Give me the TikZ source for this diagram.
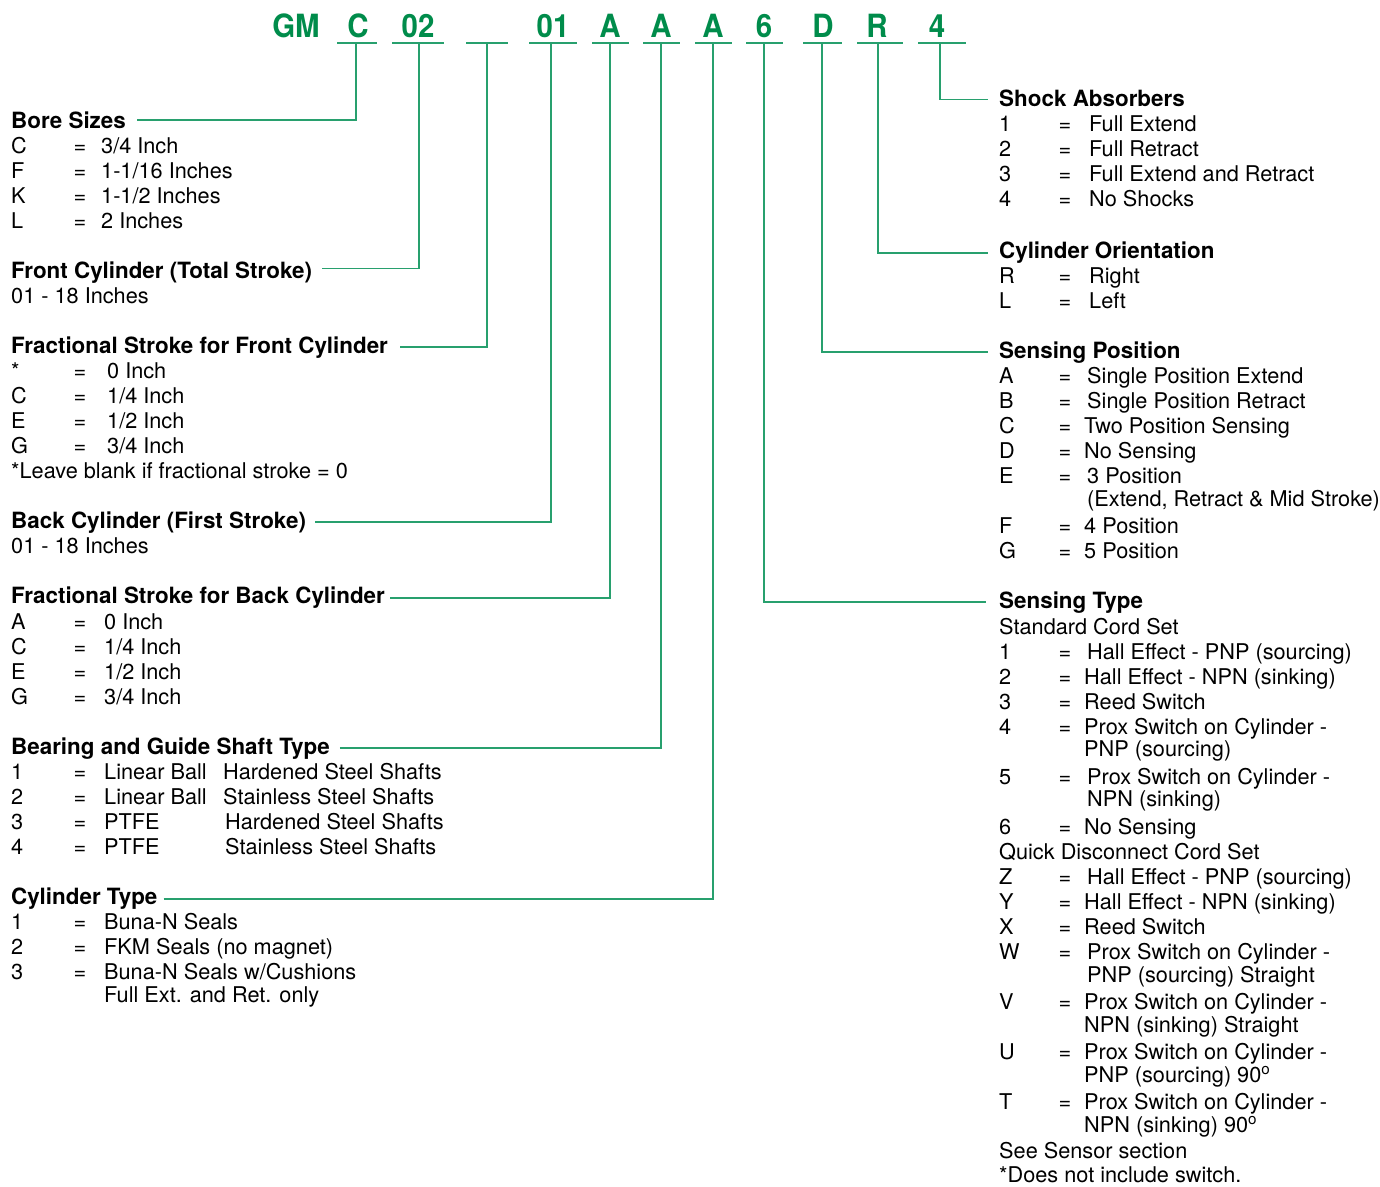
\documentclass[tikz,border=0pt]{standalone}
\usepackage{fontspec}
\setmainfont{TeX Gyre Heros}
\usetikzlibrary{calc}
\definecolor{codegreen}{RGB}{0,140,75}
\definecolor{linegreen}{RGB}{40,160,110}
\tikzset{
 txt/.style={anchor=base west, inner sep=0pt, font=\fontsize{21.7}{26}\selectfont},
 eqs/.style={anchor=base, inner sep=0pt, font=\fontsize{21.7}{26}\selectfont},
 head/.style={anchor=base west, inner sep=0pt, font=\fontsize{22.4}{27}\selectfont\bfseries},
 code/.style={anchor=base, inner sep=0pt, text=codegreen, font=\fontsize{32}{36}\selectfont\bfseries},
 conn/.style={draw=linegreen, line width=1.4pt},
}
\newcommand\Lrow[5]{\node[txt] (#1k) at (11,#2) {#3}; \node[eqs] (#1e) at (80,#2) {=}; \node[txt] (#1v) at (#4,#2) {#5};}
\newcommand\Rrow[5]{\node[txt] (#1k) at (999,#2) {#3}; \node[eqs] (#1e) at (1065,#2) {=}; \node[txt] (#1v) at (#4,#2) {#5};}
\newcommand\cw[1]{\scalebox{0.92}[1]{#1}}
\begin{document}
\begin{tikzpicture}[x=1pt,y=-1pt]
\fill[white] (0,0) rectangle (1380,1186);
\useasboundingbox (0,0) rectangle (1380,1186);
% code letters
\node[code] (cGM) at (296,37) {\cw{GM}};
\node[code] (cC) at (358,37) {\cw{C}};
\node[code] (c02) at (418,37) {\cw{02}};
\node[code] (c01) at (553,37) {\cw{01}};
\node[code] (cA1) at (610,37) {\cw{A}};
\node[code] (cA2) at (661,37) {\cw{A}};
\node[code] (cA3) at (713,37) {\cw{A}};
\node[code] (c6) at (764,37) {\cw{6}};
\node[code] (cD) at (823,37) {\cw{D}};
\node[code] (cR) at (877,37) {\cw{R}};
\node[code] (c4) at (937,37) {\cw{4}};
% underline anchor points
\coordinate (uC) at (356,43);
\coordinate (u02) at (419,43);
\coordinate (ubl) at (487,43);
\coordinate (u01) at (551,43);
\coordinate (uA1) at (610,43);
\coordinate (uA2) at (661,43);
\coordinate (uA3) at (713,43);
\coordinate (u6) at (764,43);
\coordinate (uD) at (822,43);
\coordinate (uR) at (878,43);
\coordinate (u4) at (940,43);
\draw[conn] ($(uC)+(-19,0)$) -- ($(uC)+(21,0)$);
\draw[conn] ($(u02)+(-27,0)$) -- ($(u02)+(25,0)$);
\draw[conn] ($(ubl)+(-21,0)$) -- ($(ubl)+(21,0)$);
\draw[conn] ($(u01)+(-22,0)$) -- ($(u01)+(26,0)$);
\draw[conn] ($(uA1)+(-18,0)$) -- ($(uA1)+(19,0)$);
\draw[conn] ($(uA2)+(-18,0)$) -- ($(uA2)+(19,0)$);
\draw[conn] ($(uA3)+(-18,0)$) -- ($(uA3)+(19,0)$);
\draw[conn] ($(u6)+(-18,0)$) -- ($(u6)+(19,0)$);
\draw[conn] ($(uD)+(-19,0)$) -- ($(uD)+(20,0)$);
\draw[conn] ($(uR)+(-21,0)$) -- ($(uR)+(25,0)$);
\draw[conn] ($(u4)+(-22,0)$) -- ($(u4)+(26,0)$);
% ---------- left column ----------
\node[head] (bore) at (11,128) {Bore Sizes};
\Lrow{bs1}{153}{C}{101}{3/4 Inch}
\Lrow{bs2}{178}{F}{101}{1-1/16 Inches}
\Lrow{bs3}{203}{K}{101}{1-1/2 Inches}
\Lrow{bs4}{228}{L}{101}{2 Inches}
\node[head] (front) at (11,278) {Front Cylinder (Total Stroke)};
\node[txt] (front1) at (11,303) {01 - 18 Inches};
\node[head] (fracf) at (11,353) {Fractional Stroke for Front Cylinder};
\Lrow{ff1}{378}{*}{107}{0 Inch}
\Lrow{ff2}{403}{C}{107}{1/4 Inch}
\Lrow{ff3}{428}{E}{107}{1/2 Inch}
\Lrow{ff4}{453}{G}{107}{3/4 Inch}
\node[txt] (ffnote) at (11,478) {*Leave blank if fractional stroke = 0};
\node[head] (back) at (11,528) {Back Cylinder (First Stroke)};
\node[txt] (back1) at (11,553) {01 - 18 Inches};
\node[head] (fracb) at (11,603) {Fractional Stroke for Back Cylinder};
\Lrow{fb1}{629}{A}{104}{0 Inch}
\Lrow{fb2}{654}{C}{104}{1/4 Inch}
\Lrow{fb3}{679}{E}{104}{1/2 Inch}
\Lrow{fb4}{704}{G}{104}{3/4 Inch}
\node[head] (bear) at (11,754) {Bearing and Guide Shaft Type};
\Lrow{br1}{779}{1}{104}{Linear Ball}
\Lrow{br2}{804}{2}{104}{Linear Ball}
\Lrow{br3}{829}{3}{104}{PTFE}
\Lrow{br4}{854}{4}{104}{PTFE}
\node[txt] (br1s) at (223,779) {Hardened Steel Shafts};
\node[txt] (br2s) at (223,804) {Stainless Steel Shafts};
\node[txt] (br3s) at (225,829) {Hardened Steel Shafts};
\node[txt] (br4s) at (225,854) {Stainless Steel Shafts};
\node[head] (cyl) at (11,904) {Cylinder Type};
\Lrow{ct1}{929}{1}{104}{Buna-N Seals}
\Lrow{ct2}{954}{2}{104}{FKM Seals (no magnet)}
\Lrow{ct3}{979}{3}{104}{Buna-N Seals w/Cushions}
\node[txt] (ct3b) at (104,1002) {Full Ext. and Ret. only};
% ---------- right column ----------
\node[head] (shock) at (999,106) {Shock Absorbers};
\Rrow{sa1}{131}{1}{1089}{Full Extend}
\Rrow{sa2}{156}{2}{1089}{Full Retract}
\Rrow{sa3}{181}{3}{1089}{Full Extend and Retract}
\Rrow{sa4}{206}{4}{1089}{No Shocks}
\node[head] (orient) at (999,258) {Cylinder Orientation};
\Rrow{or1}{283}{R}{1089}{Right}
\Rrow{or2}{308}{L}{1089}{Left}
\node[head] (spos) at (999,358) {Sensing Position};
\Rrow{sp1}{383}{A}{1087}{Single Position Extend}
\Rrow{sp2}{408}{B}{1087}{Single Position Retract}
\Rrow{sp3}{433}{C}{1084}{Two Position Sensing}
\Rrow{sp4}{458}{D}{1084}{No Sensing}
\Rrow{sp5}{483}{E}{1087}{3 Position}
\node[txt] (sp5b) at (1087,506) {(Extend, Retract \& Mid Stroke)};
\Rrow{sp6}{533}{F}{1084}{4 Position}
\Rrow{sp7}{558}{G}{1084}{5 Position}
\node[head] (stype) at (999,608) {Sensing Type};
\node[txt] (std) at (999,634) {Standard Cord Set};
\Rrow{st1}{659}{1}{1087}{Hall Effect - PNP (sourcing)}
\Rrow{st2}{684}{2}{1084}{Hall Effect - NPN (sinking)}
\Rrow{st3}{709}{3}{1084}{Reed Switch}
\Rrow{st4}{734}{4}{1084}{Prox Switch on Cylinder -}
\node[txt] (st4b) at (1084,756) {PNP (sourcing)};
\Rrow{st5}{784}{5}{1087}{Prox Switch on Cylinder -}
\node[txt] (st5b) at (1087,806) {NPN (sinking)};
\Rrow{st6}{834}{6}{1084}{No Sensing}
\node[txt] (qd) at (999,859) {Quick Disconnect Cord Set};
\Rrow{qz}{884}{Z}{1087}{Hall Effect - PNP (sourcing)}
\Rrow{qy}{909}{Y}{1084}{Hall Effect - NPN (sinking)}
\Rrow{qx}{934}{X}{1084}{Reed Switch}
\Rrow{qw}{959}{W}{1087}{Prox Switch on Cylinder -}
\node[txt] (qwb) at (1087,982) {PNP (sourcing) Straight};
\Rrow{qv}{1009}{V}{1084}{Prox Switch on Cylinder -}
\node[txt] (qvb) at (1084,1032) {NPN (sinking) Straight};
\Rrow{qu}{1059}{U}{1084}{Prox Switch on Cylinder -}
\node[txt] (qub) at (1084,1082) {PNP (sourcing) 90\textsuperscript{o}};
\Rrow{qt}{1109}{T}{1084}{Prox Switch on Cylinder -}
\node[txt] (qtb) at (1084,1132) {NPN (sinking) 90\textsuperscript{o}};
\node[txt] (see) at (999,1158) {See Sensor section};
\node[txt] (dnote) at (999,1182) {*Does not include switch.};
% ---------- connectors ----------
\draw[conn] ($(bore.base east)+(11,-8)$) -| (uC);
\draw[conn] ($(front.base east)+(10,-9.5)$) -| (u02);
\draw[conn] ($(fracf.base east)+(12,-6)$) -| (ubl);
\draw[conn] ($(back.base east)+(9,-6)$) -| (u01);
\draw[conn] ($(fracb.base east)+(5,-5)$) -| (uA1);
\draw[conn] ($(bear.base east)+(10,-6)$) -| (uA2);
\draw[conn] ($(cyl.base east)+(6,-5)$) -| (uA3);
\draw[conn] (u4) |- ($(shock.base west)+(-11,-6.5)$);
\draw[conn] (uR) |- ($(orient.base west)+(-11,-5)$);
\draw[conn] (uD) |- ($(spos.base west)+(-11,-6)$);
\draw[conn] (u6) |- ($(stype.base west)+(-13,-6)$);
\end{tikzpicture}
\end{document}
